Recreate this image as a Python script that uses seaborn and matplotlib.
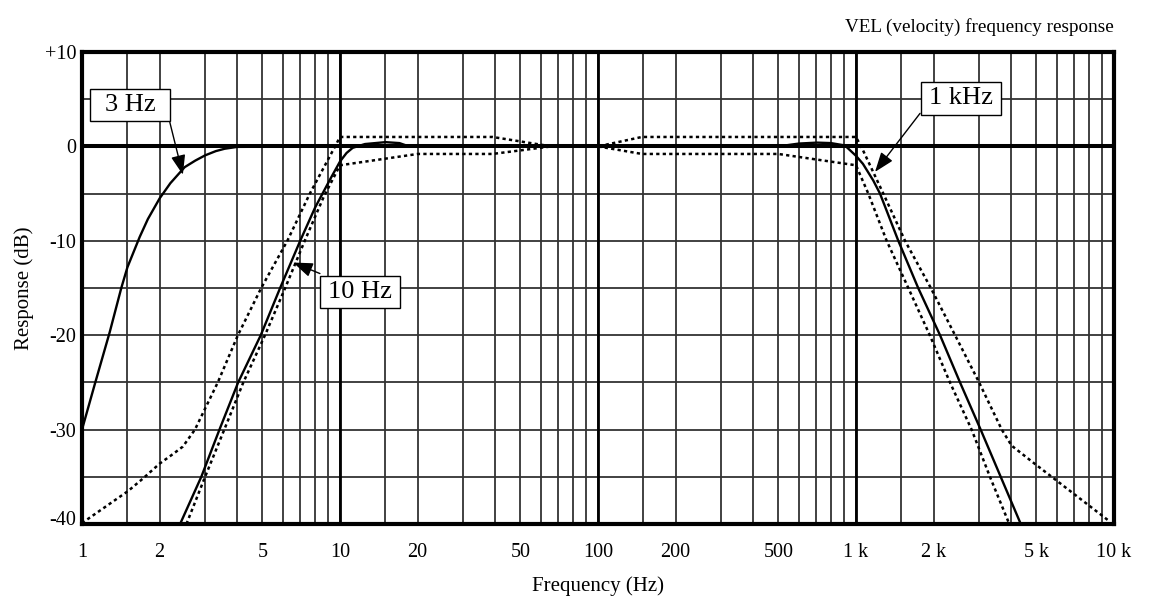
import matplotlib
matplotlib.use("Agg")
import matplotlib.pyplot as plt
import matplotlib.transforms as mtransforms
from matplotlib.path import Path
from matplotlib.ticker import NullFormatter
import pandas as pd
import seaborn as sns

# ---------------- data ----------------
# solid: 3 Hz low-cut
freq_3hz = [1.0, 1.126, 1.28, 1.42, 1.5, 1.673, 1.8, 2.0, 2.2, 2.5, 2.75, 3.0, 3.3, 3.57, 4.0, 10.0]
resp_3hz = [-30.0, -25.0, -19.7, -15.0, -12.8, -9.6, -7.7, -5.5, -3.9, -2.2, -1.5, -0.95,
            -0.5, -0.25, -0.05, 0.0]

# solid: 10 Hz low-cut
freq_10hz = [2.40, 2.90, 3.41, 4.03, 4.93, 5.86, 7.01, 8.0, 9.15, 10.0, 10.6, 11.2,
             12.5, 15.0, 17.0, 18.5, 30.0]
resp_10hz = [-40.0, -35.0, -30.0, -25.0, -20.0, -15.0, -10.0, -6.5, -3.5, -1.6, -0.7, -0.15,
             0.25, 0.45, 0.35, 0.0, 0.0]

# solid: 1 kHz high-cut
freq_1k = [100, 500, 600, 706, 800, 906, 1000, 1064, 1166, 1239, 1459, 1742,
           2117, 2530, 3042, 3638, 4352]
resp_1k = [0.0, 0.0, 0.3, 0.4, 0.35, 0.1, -1.0, -1.85, -3.6, -5.0, -10.0, -15.0,
           -20.0, -25.0, -30.0, -35.0, -40.0]

# dashed: upper tolerance limit
hi_freq = [1.0, 1.51, 1.72, 2.0, 2.25, 2.46, 2.74, 3.36, 4.02, 4.95, 6.25, 7.64, 9.57, 10.0,
           39.0, 66.0, 100.0, 148.0, 1000.0, 1064, 1276, 1549, 1950, 2421, 3000, 3672,
           4011, 4865, 5735, 9590]
hi_resp = [-39.9, -36.5, -35.2, -33.6, -32.6, -31.8, -30.0, -25.0, -20.0, -15.0, -10.0, -5.0,
           0.0, 1.0, 1.0, 0.0, 0.0, 1.0, 1.0, -0.4, -5.0, -10.0, -15.0, -20.0, -25.0, -30.0,
           -31.7, -33.5, -35.0, -39.7]

# dashed: lower tolerance limit
lo_freq = [2.54, 3.0, 3.56, 4.22, 5.12, 6.13, 7.3, 8.66, 10.0, 20.0, 39.0, 66.0, 100.0,
           148.0, 500.0, 1000.0, 1116, 1315, 1595, 1932, 2313, 2806, 3305, 3928]
lo_resp = [-40.0, -35.0, -30.0, -25.0, -20.0, -15.0, -10.0, -5.3, -2.0, -0.8, -0.8, 0.0, 0.0,
           -0.8, -0.8, -2.0, -5.0, -10.0, -15.0, -20.0, -25.0, -30.0, -35.0, -40.0]

x_tick_vals = [1, 2, 5, 10, 20, 50, 100, 200, 500, 1000, 2000, 5000, 10000]
x_tick_labels = ["1", "2", "5", "10", "20", "50", "100", "200", "500",
                 "1 k", "2 k", "5 k", "10 k"]
x_minor_mantissas = [1.5, 3, 4, 6, 7, 8, 9]
y_tick_vals = [-40, -30, -20, -10, 0, 10]
y_tick_labels = ["-40", "-30", "-20", "-10", "0", "+10"]
y_minor_vals = [-35, -25, -15, -5, 5]
decade_lines = [10, 100, 1000]

note_labels = ["3 Hz", "10 Hz", "1 kHz"]
note_text_xy = [(1.535, 4.40), (11.95, -15.43), (2553, 5.1)]
note_from_xy = [(2.19, 2.55), (8.36, -13.47), (1771, 3.5)]
note_to_xy = [(2.46, -3.0), (6.58, -12.3), (1185, -2.7)]

title_text = "VEL (velocity) frequency response"

# ---------------- style ----------------
sns.set_theme(style="white")
plt.rcParams["font.family"] = ["Liberation Serif", "DejaVu Serif"]
plt.rcParams["axes.unicode_minus"] = False

W, H = 1153, 599
fig = plt.figure(figsize=(W / 100, H / 100), dpi=100)
ax = fig.add_axes([82 / W, 1 - 524 / H, (1114 - 82) / W, (524 - 52) / H])
ax.set_xscale("log")

solid_kw = dict(color="black", linewidth=1.7, zorder=4)
dash_kw = dict(color="black", linewidth=1.8, linestyle=(0, (1.3, 1.3)), zorder=3)


def draw(freq, resp, kw):
    df = pd.DataFrame({"freq": freq, "resp": resp})
    sns.lineplot(data=df, x="freq", y="resp", ax=ax, sort=False,
                 estimator=None, legend=False, **kw)


draw(hi_freq, hi_resp, dash_kw)
draw(lo_freq, lo_resp, dash_kw)
draw(freq_3hz, resp_3hz, solid_kw)
draw(freq_10hz, resp_10hz, solid_kw)
draw(freq_1k, resp_1k, solid_kw)

ax.set_xlim(1, 10000)
ax.set_ylim(-40, 10)

minor_x = [m * 10 ** d for d in range(4) for m in x_minor_mantissas]
ax.set_xticks(x_tick_vals, labels=x_tick_labels)
ax.set_xticks(minor_x, minor=True)
ax.xaxis.set_minor_formatter(NullFormatter())
ax.set_yticks(y_tick_vals, labels=y_tick_labels)
ax.set_yticks(y_minor_vals, minor=True)

ax.grid(True, which="both", axis="both", color="#333333", linewidth=1.3)
ax.set_axisbelow(True)
ax.tick_params(which="both", length=0)
ax.tick_params(axis="x", labelsize=14.5, pad=14, colors="black")
ax.tick_params(axis="y", labelsize=14.5, pad=4, colors="black")

ax.axhline(0, color="black", linewidth=2.9, zorder=2)
for v in decade_lines:
    ax.axvline(v, color="black", linewidth=2.0, zorder=2)

for s in ax.spines.values():
    s.set_linewidth(3.0)
    s.set_color("black")
    s.set_zorder(6)

ax.set_xlabel("Frequency (Hz)", fontsize=15, labelpad=10, color="black")
ax.set_ylabel("Response (dB)", fontsize=15, labelpad=8, color="black")
ax.set_title(title_text, loc="right", fontsize=13.8, pad=14.5, color="black")

# nudge the bottom y label up as in the reference
t0 = ax.yaxis.get_major_ticks()[0]
t0.label1.set_transform(t0.label1.get_transform()
                        + mtransforms.ScaledTranslation(0, 0.06, fig.dpi_scale_trans))


def fixed_box(x0, y0, width, height, mutation_size):
    total_w = max(width + 0.6 * mutation_size, 3.03 * mutation_size)
    py = 0.2 * mutation_size
    cx = x0 + width / 2
    a, c = cx - total_w / 2, cx + total_w / 2
    b, d = y0 - py, y0 + height + py
    return Path([(a, b), (c, b), (c, d), (a, d), (a, b)], closed=True)


for lab, txy, fxy, hxy in zip(note_labels, note_text_xy, note_from_xy, note_to_xy):
    ax.annotate("", xy=hxy, xytext=fxy,
                arrowprops=dict(arrowstyle="-|>,head_length=0.6,head_width=0.22",
                                color="black", lw=1.0, shrinkA=0, shrinkB=0,
                                mutation_scale=20), zorder=7)
    ax.text(txy[0], txy[1], lab, ha="center", va="center", fontsize=19, color="black",
            zorder=8, bbox=dict(boxstyle=fixed_box, fc="white", ec="black", lw=1.0))

fig.savefig("out.png", dpi=100)
